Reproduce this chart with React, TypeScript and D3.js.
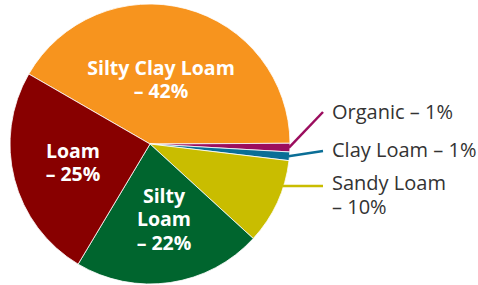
import React from "react";
import * as d3 from "d3";

const categories = ["Silty Clay Loam", "Organic", "Clay Loam", "Sandy Loam", "Silty Loam", "Loam"];
const percents = [42, 1, 1, 10, 22, 25];
const colors = ["#F7941E", "#9B0D5E", "#0A6E96", "#C9BD00", "#00652E", "#880000"];

// labels drawn inside the slices (lines of text)
const insideLabels = [
  { name: "Silty Clay Loam", lines: ["Silty Clay Loam", "– 42%"], x: 161, y: 75 },
  { name: "Loam", lines: ["Loam", "– 25%"], x: 73, y: 158 },
  { name: "Silty Loam", lines: ["Silty", "Loam", "– 22%"], x: 164, y: 203 },
];
// labels outside with leader lines
const outsideLabels = [
  { name: "Organic", lines: ["Organic – 1%"], tx: 332, ty: 119, lx: 323, ly: 112 },
  { name: "Clay Loam", lines: ["Clay Loam – 1%"], tx: 332, ty: 157, lx: 323, ly: 151 },
  { name: "Sandy Loam", lines: ["Sandy Loam", "– 10%"], tx: 332, ty: 190, lx: 323, ly: 186, flat: true },
];

const W = 478, H = 285;
const cx = 150, cy = 144, R = 140;

const App = () => {
  const ref = React.useRef<SVGSVGElement>(null);

  React.useEffect(() => {
    document.body.style.margin = "0";
    const svg = d3.select(ref.current);
    svg.selectAll("*").remove();

    const data = categories.map((c, i) => ({ name: c, value: percents[i], color: colors[i] }));
    const pie = d3
      .pie<any>()
      .sort(null)
      .value((d) => d.value)
      .startAngle((-60 * Math.PI) / 180)
      .endAngle((300 * Math.PI) / 180);
    const arcs = pie(data);
    const arc = d3.arc<any>().innerRadius(0).outerRadius(R);

    const g = svg.append("g").attr("transform", `translate(${cx},${cy})`);
    g.selectAll("path")
      .data(arcs)
      .join("path")
      .attr("d", arc)
      .attr("fill", (d) => d.data.color)
      .attr("stroke", "#fff")
      .attr("stroke-width", 0.8);

    // leader lines
    outsideLabels.forEach((lab) => {
      const a = arcs.find((d) => d.data.name === lab.name)!;
      let x0, y0;
      if (lab.flat) {
        y0 = lab.ly;
        x0 = cx + Math.sqrt(R * R - (lab.ly - cy) * (lab.ly - cy)) - 1;
      } else {
        const m = (a.startAngle + a.endAngle) / 2;
        x0 = cx + R * Math.sin(m) - 1;
        y0 = cy - R * Math.cos(m);
      }
      svg
        .append("line")
        .attr("x1", x0)
        .attr("y1", y0)
        .attr("x2", lab.lx)
        .attr("y2", lab.ly)
        .attr("stroke", a.data.color)
        .attr("stroke-width", 2.5);

      const t = svg
        .append("text")
        .attr("x", lab.tx)
        .attr("y", lab.ty)
        .attr("fill", "#333")
        .style("font-family", "'Open Sans', sans-serif")
        .style("font-size", "20px");
      lab.lines.forEach((l, i) => {
        t.append("tspan").attr("x", lab.tx).attr("dy", i === 0 ? 0 : 23.5).text(l);
      });
    });

    insideLabels.forEach((lab) => {
      const t = svg
        .append("text")
        .attr("x", lab.x)
        .attr("y", lab.y)
        .attr("fill", "#fff")
        .attr("text-anchor", "middle")
        .style("font-family", "'Open Sans', sans-serif")
        .style("font-weight", "bold")
        .style("font-size", "19.5px");
      lab.lines.forEach((l, i) => {
        t.append("tspan").attr("x", lab.x).attr("dy", i === 0 ? 0 : 23.4).text(l);
      });
    });
  }, []);

  return (
    <svg
      ref={ref}
      width={W}
      height={H}
      style={{ display: "block", position: "absolute", left: 0, top: 0, background: "#fff" }}
    />
  );
};

export default App;
